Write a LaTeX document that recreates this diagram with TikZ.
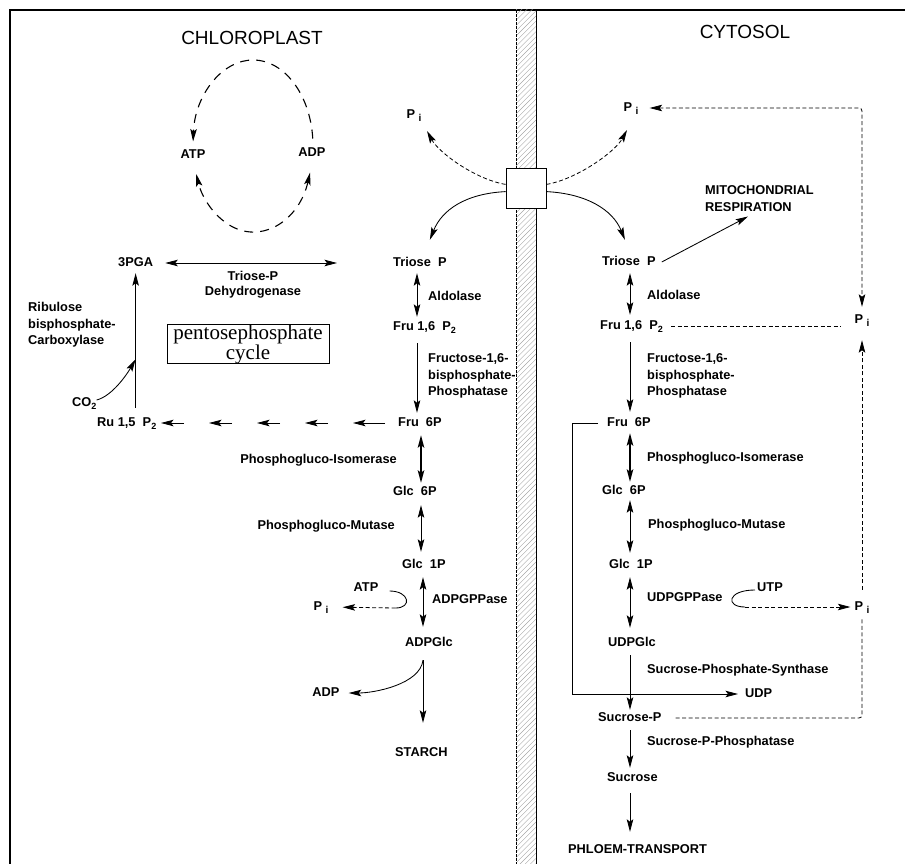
\documentclass[tikz,border=0pt]{standalone}
\usepackage{fontspec}
\setmainfont{Liberation Sans}
\newfontfamily\pentfont{Liberation Serif}
\usetikzlibrary{arrows.meta,calc}
\newcommand{\PiSym}{P\hspace{3.5pt}\raisebox{-3.5pt}{\fontsize{10}{10}\selectfont i}}
\newcommand{\subtwo}{\raisebox{-3pt}{\fontsize{9}{9}\selectfont 2}}
\begin{document}
\begin{tikzpicture}[x=1pt,y=-1pt,
  >={Stealth[length=12.5pt,width=6.5pt,inset=2.5pt]},
  lab/.style={font=\fontsize{12.8}{15}\selectfont\bfseries, inner sep=0pt, text height=9.3pt, text depth=2.7pt},
  multi/.style={font=\fontsize{12.8}{16.8}\selectfont\bfseries, inner sep=0pt, align=left},
  ttl/.style={font=\fontsize{19}{22}\selectfont, inner sep=0pt},
  fdash/.style={dash pattern=on 4pt off 2.5pt, line width=0.8pt},
  cdash/.style={dash pattern=on 9pt off 7pt, line width=1.1pt},
  flow/.style={line width=0.85pt},
  thickflow/.style={line width=1.6pt},
]
\useasboundingbox (0,0) rectangle (905,864);
% frame
\draw[line width=1.2pt] (10,864) -- (10,10) -- (905,10);
% membrane
\begin{scope}
\clip (516,10) rectangle (536,864);
\foreach \k in {0,...,170} \draw[gray!70, line width=0.4pt] (516,10+5.2*\k) -- ++(20,-20);
\end{scope}
\draw[line width=0.5pt, dash pattern=on 3pt off 1pt] (516,10) -- (516,864);
\draw[line width=0.9pt] (536,10) -- (536,864);
\node[draw, fill=white, minimum size=40pt, line width=0.9pt, inner sep=0pt] (tr) at (526,188) {};

% titles
\node[ttl] (chl) at (252,38) {CHLOROPLAST};
\node[ttl] (cyt) at (745,32) {CYTOSOL};

% column coordinates
\coordinate (xa) at (417,0);
\coordinate (xb) at (421,0);
\coordinate (xc) at (423,0);
\coordinate (xr) at (630,0);

% ---------- chloroplast ----------
\node[lab] (atpc) at (193,155) {ATP};
\node[lab] (adpc) at (312,153) {ADP};
\coordinate (cyc) at (253,146);
\draw[cdash,->] ($(cyc)+(-5:60 and 86)$) arc[start angle=-5, end angle=-177, x radius=60, y radius=86];
\draw[cdash,<->] ($(cyc)+(18:60 and 86)$) arc[start angle=18, end angle=161, x radius=60, y radius=86];

\node[lab] (piL) at (414,115) {\PiSym};

\node[lab,anchor=west] (tpL) at (393,263) {Triose\ \ P};
\node[lab,anchor=west] (f16L) at (393,327) {Fru 1,6\ \ P\subtwo};
\node[lab,anchor=west] (f6L) at (398,423) {Fru\ \ 6P};
\node[lab,anchor=west] (g6L) at (393,492) {Glc\ \ 6P};
\node[lab,anchor=west] (g1L) at (402,565) {Glc\ \ 1P};
\node[lab,anchor=west] (adpgL) at (405,643) {ADPGlc};
\node[lab,anchor=west] (starch) at (395,753) {STARCH};

\node[lab,anchor=west] (aldL) at (428,297) {Aldolase};
\node[multi,anchor=west] (fbpL) at (428,376) {Fructose-1,6-\\bisphosphate-\\Phosphatase};
\node[lab,anchor=east] (pgiL) at (397,460) {Phosphogluco-Isomerase};
\node[lab,anchor=east] (pgmL) at (395,526) {Phosphogluco-Mutase};
\node[lab,anchor=west] (adpgpp) at (432,600) {ADPGPPase};

\node[lab,anchor=west] (pga) at (118,263) {3PGA};
\node[multi,align=center,font=\fontsize{12.8}{15}\selectfont\bfseries] (tpdh) at (253,285) {Triose-P\\Dehydrogenase};
\node[multi,anchor=west,font=\fontsize{12.8}{16.5}\selectfont\bfseries] (rubisco) at (28,325) {Ribulose\\bisphosphate-\\Carboxylase};
\node[draw, line width=0.6pt, inner sep=0pt, minimum width=162pt, minimum height=38pt, align=center, font=\pentfont\fontsize{21}{15}\selectfont] (pent) at (248,344) {pentosephosphate\\cycle};
\node[lab,anchor=west] (co2) at (72,403) {CO\subtwo};
\node[lab,anchor=west] (ru) at (97,423) {Ru 1,5\ \ P\subtwo};

\node[lab] (atp2) at (366,588) {ATP};
\node[lab] (pil2) at (321,607) {\PiSym};
\node[lab] (adp2) at (326,693) {ADP};

% chloroplast arrows
\draw[flow,<->,shorten <=4pt,shorten >=4pt] (tpL.south -| xa) -- (f16L.north -| xa);
\draw[flow,->,shorten <=10pt,shorten >=4pt] (f16L.south -| xa) -- (f6L.north -| xa);
\draw[thickflow,<->,shorten <=6pt,shorten >=3pt] (f6L.south -| xb) -- (g6L.north -| xb);
\draw[flow,<->,shorten <=7pt,shorten >=7pt] (g6L.south -| xb) -- (g1L.north -| xb);
\draw[flow,<->,shorten <=6pt,shorten >=10pt] (g1L.south -| xc) -- (adpgL.north -| xc);
\draw[flow,->,shorten <=11pt,shorten >=24pt] (adpgL.south -| xc) -- (starch.north -| xc);

\draw[flow,<->,shorten <=12pt,shorten >=56pt] (pga.east) -- (tpL.west);
\draw[flow,->,shorten <=9pt,shorten >=4pt] (ru.north -| pga.south) -- (pga.south);
\coordinate (cfix) at ($(pga.south)+(0,90)$);
\draw[flow,->] ($(co2.east)+(0,-3)$) .. controls +(16,-4) and +(-8,14) .. (cfix);
\foreach \i/\t in {0/13,1/22,2/22,3/22,4/22}
  \draw[flow,->] ($(f6L.west)+(-\t-48*\i,0)$) -- ($(f6L.west)+(-45-48*\i,0)$);

\coordinate (ahook) at ($(atp2.east)+(17,20)$);
\draw[flow] ($(atp2.east)+(11,3)$) .. controls +(20,0) and +(17,0) .. (ahook);
\draw[fdash,->,shorten >=14pt] (ahook) -- (pil2.east);
\coordinate (adS) at ($(adpgL.south -| xc)+(0,11)$);
\draw[flow,->,shorten >=9pt] (adS) .. controls +(-3,24) and +(35,0) .. (adp2.east);

% ---------- cytosol ----------
\node[lab] (piR) at (631,108) {\PiSym};
\node[lab,anchor=west] (tpR) at (602,262) {Triose\ \ P};
\node[lab,anchor=west] (f16R) at (600,326) {Fru 1,6\ \ P\subtwo};
\node[lab,anchor=west] (f6R) at (607,423) {Fru\ \ 6P};
\node[lab,anchor=west] (g6R) at (602,491) {Glc\ \ 6P};
\node[lab,anchor=west] (g1R) at (609,565) {Glc\ \ 1P};
\node[lab,anchor=west] (udpg) at (608,643) {UDPGlc};
\node[lab,anchor=west] (sucP) at (598,718) {Sucrose-P};
\node[lab,anchor=west] (suc) at (607,778) {Sucrose};
\node[lab,anchor=west] (phloem) at (568,850) {PHLOEM-TRANSPORT};

\node[lab,anchor=west] (aldR) at (647,296) {Aldolase};
\node[multi,anchor=west] (fbpR) at (647,376) {Fructose-1,6-\\bisphosphate-\\Phosphatase};
\node[lab,anchor=west] (pgiR) at (647,458) {Phosphogluco-Isomerase};
\node[lab,anchor=west] (pgmR) at (648,525) {Phosphogluco-Mutase};
\node[lab,anchor=west] (udpgpp) at (647,598) {UDPGPPase};
\node[lab,anchor=west] (sps) at (647,670) {Sucrose-Phosphate-Synthase};
\node[lab,anchor=west] (spp) at (647,742) {Sucrose-P-Phosphatase};
\node[multi,anchor=west,font=\fontsize{12.8}{16.5}\selectfont\bfseries] (mito) at (705,198.5) {MITOCHONDRIAL\\RESPIRATION};

\node[lab] (piM) at (862,320) {\PiSym};
\node[lab] (piLow) at (862,607) {\PiSym};
\node[lab,anchor=west] (utp) at (757,588) {UTP};
\node[lab,anchor=west] (udp) at (745,694) {UDP};

% transporter connections
\draw[fdash,->] (tr.170) .. controls +(-30,-5) and +(12,22) .. ($(piL)+(13,16)$);
\draw[fdash,->] (tr.10) .. controls +(30,-5) and +(-12,22) .. ($(piR)+(-4,22)$);
\draw[flow,->] (tr.190) .. controls +(-40,2) and +(12,-30) .. ($(tpL.north)+(10,-17)$);
\draw[flow,->] (tr.350) .. controls +(40,2) and +(-12,-30) .. ($(tpR.north)+(-4,-16)$);

\draw[flow,<->,shorten <=5pt,shorten >=5pt] (tpR.south -| xr) -- (f16R.north -| xr);
\draw[flow,->,shorten <=10pt,shorten >=5pt] (f16R.south -| xr) -- (f6R.north -| xr);
\draw[thickflow,<->,shorten <=4pt,shorten >=3pt] (f6R.south -| xr) -- (g6R.north -| xr);
\draw[flow,<->,shorten <=3pt,shorten >=6pt] (g6R.south -| xr) -- (g1R.north -| xr);
\draw[flow,<->,shorten <=6pt,shorten >=9pt] (g1R.south -| xr) -- (udpg.north -| xr);
\draw[flow,->,shorten <=6pt,shorten >=2pt] (udpg.south -| xr) -- (sucP.north -| xr);
\draw[flow,->,shorten <=6pt,shorten >=4pt] (sucP.south -| xr) -- (suc.north -| xr);
\draw[flow,->,shorten <=9pt,shorten >=12pt] (suc.south -| xr) -- (phloem.north -| xr);

\draw[flow,->] ($(tpR.east)+(6,0)$) -- ($(mito.south west)+(43,5)$);

\draw[flow,->] ($(f6R.west)+(-9,0)$) -- ++(-26,0) |- ($(udp.west)+(-7,0)$);

\draw[fdash,<->,rounded corners=3pt,shorten <=11pt,shorten >=7pt] (piR.east) -- (piR.east -| piM.north) -- (piM.north);
\draw[fdash,shorten <=8pt,shorten >=14pt] (f16R.east) -- (f16R.east -| piM.west);
\draw[fdash,->,shorten <=11pt,shorten >=14pt] (piLow.north) -- (piM.south);
\draw[fdash,rounded corners=3pt,shorten <=14pt,shorten >=4pt] (sucP.east) -- (sucP.east -| piLow.south) -- (piLow.south);

\coordinate (uhook) at ($(utp.west)+(-12,19)$);
\draw[flow] ($(utp.west)+(-2,2)$) .. controls +(-28,0) and +(-20,0) .. (uhook);
\draw[fdash,->,shorten >=4pt] (uhook) -- (piLow.west);
\end{tikzpicture}
\end{document}
